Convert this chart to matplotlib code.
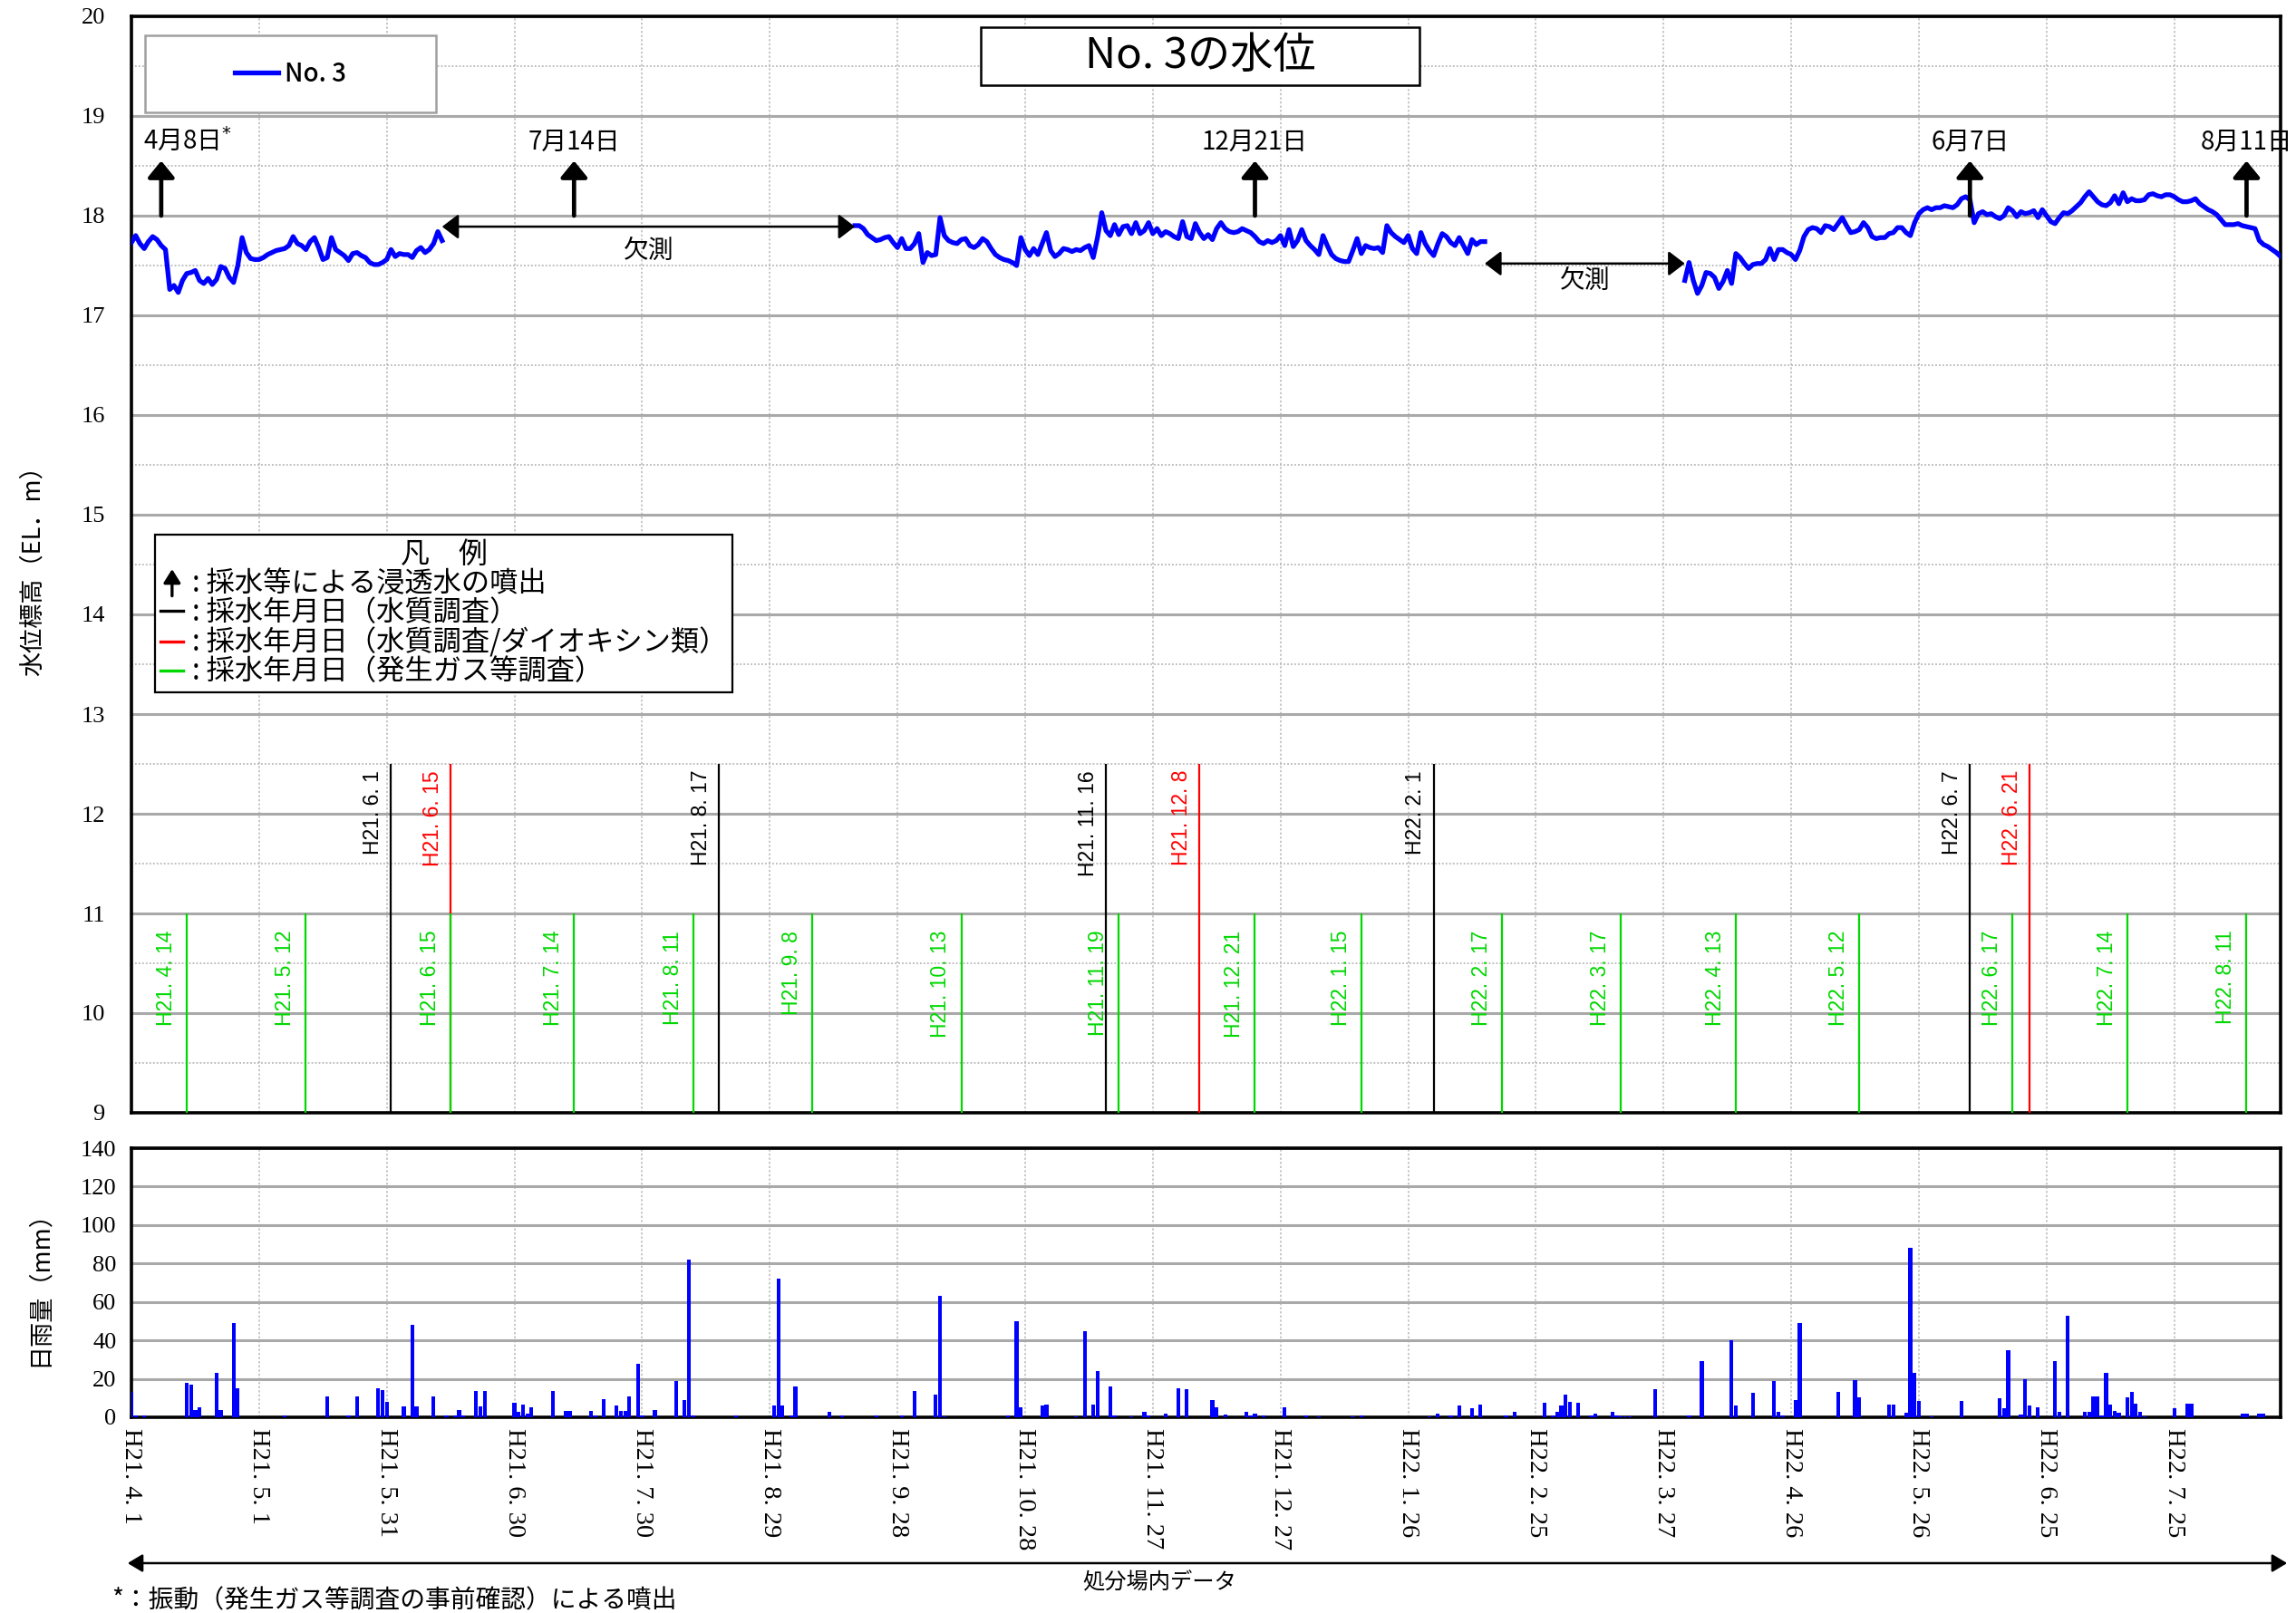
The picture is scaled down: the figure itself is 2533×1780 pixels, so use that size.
import numpy as np
import pandas as pd
import matplotlib
matplotlib.use("Agg")
import matplotlib.pyplot as plt
from matplotlib.lines import Line2D
from matplotlib.patches import Rectangle, FancyArrowPatch
from matplotlib.legend_handler import HandlerBase
from matplotlib.font_manager import FontProperties

JP = ["Noto Sans CJK JP", "DejaVu Sans"]
SERIF = ["Liberation Serif", "DejaVu Serif"]
SANS = ["Liberation Sans", "DejaVu Sans"]

ORIGIN = pd.Timestamp("2009-04-01")   # H21.4.1


def day(s):
    return (pd.Timestamp(s) - ORIGIN).days


# ---------------------------------------------------------------- data
# Daily water level at well No.3 (EL. m), one list per continuous record
level_start_1 = "2009-04-01"
level_1 = [17.73, 17.80, 17.72, 17.67, 17.74, 17.79, 17.76, 17.70, 17.66, 17.26,
           17.30, 17.23, 17.35, 17.42, 17.43, 17.45, 17.35, 17.32, 17.37, 17.31,
           17.36, 17.49, 17.47, 17.38, 17.33, 17.50, 17.78, 17.63, 17.57, 17.56,
           17.56, 17.58, 17.61, 17.63, 17.65, 17.66, 17.67, 17.70, 17.79, 17.72,
           17.70, 17.66, 17.74, 17.78, 17.68, 17.56, 17.58, 17.78, 17.66, 17.63,
           17.60, 17.55, 17.62, 17.63, 17.60, 17.58, 17.53, 17.51, 17.51, 17.53,
           17.56, 17.66, 17.59, 17.62, 17.61, 17.61, 17.58, 17.65, 17.68, 17.63,
           17.66, 17.72, 17.84, 17.75]

level_start_2 = "2009-09-18"
level_2 = [17.90, 17.90, 17.87, 17.81, 17.78, 17.75, 17.76, 17.78, 17.79, 17.73,
           17.68, 17.77, 17.67, 17.67, 17.72, 17.82, 17.53, 17.63, 17.60, 17.61,
           17.98, 17.80, 17.75, 17.73, 17.72, 17.76, 17.77, 17.70, 17.68, 17.71,
           17.77, 17.74, 17.67, 17.61, 17.58, 17.56, 17.55, 17.53, 17.50, 17.78,
           17.66, 17.60, 17.67, 17.61, 17.72, 17.83, 17.65, 17.59, 17.62, 17.67,
           17.66, 17.64, 17.66, 17.65, 17.68, 17.70, 17.58, 17.78, 18.03, 17.85,
           17.80, 17.91, 17.81, 17.89, 17.90, 17.82, 17.93, 17.82, 17.85, 17.93,
           17.82, 17.87, 17.80, 17.84, 17.82, 17.79, 17.77, 17.94, 17.79, 17.77,
           17.92, 17.83, 17.77, 17.81, 17.76, 17.87, 17.93, 17.87, 17.84, 17.83,
           17.84, 17.87, 17.85, 17.83, 17.79, 17.74, 17.72, 17.75, 17.73, 17.75,
           17.80, 17.70, 17.86, 17.69, 17.75, 17.86, 17.75, 17.70, 17.66, 17.61,
           17.80, 17.70, 17.61, 17.57, 17.55, 17.54, 17.54, 17.65, 17.77, 17.62,
           17.70, 17.68, 17.67, 17.68, 17.63, 17.90, 17.83, 17.79, 17.76, 17.73,
           17.80, 17.67, 17.62, 17.83, 17.72, 17.65, 17.60, 17.72, 17.82, 17.79,
           17.73, 17.70, 17.78, 17.70, 17.62, 17.76, 17.71, 17.74, 17.74]

level_start_3 = "2010-04-01"
level_3 = [17.35, 17.53, 17.35, 17.22, 17.30, 17.43, 17.42, 17.38, 17.27, 17.34,
           17.45, 17.32, 17.62, 17.58, 17.52, 17.47, 17.51, 17.52, 17.52, 17.56,
           17.67, 17.56, 17.66, 17.66, 17.63, 17.61, 17.56, 17.65, 17.79, 17.86,
           17.88, 17.87, 17.83, 17.90, 17.89, 17.86, 17.92, 17.98, 17.90, 17.83,
           17.84, 17.86, 17.93, 17.88, 17.79, 17.77, 17.78, 17.78, 17.82, 17.83,
           17.88, 17.88, 17.83, 17.80, 17.93, 18.02, 18.06, 18.08, 18.06, 18.08,
           18.08, 18.10, 18.09, 18.08, 18.11, 18.17, 18.19, 18.16, 17.93, 18.02,
           18.04, 18.01, 18.02, 17.99, 17.97, 18.00, 18.08, 18.05, 17.99, 18.04,
           18.02, 18.03, 18.05, 17.98, 18.06, 18.00, 17.94, 17.92, 17.98, 18.03,
           18.02, 18.05, 18.09, 18.13, 18.19, 18.24, 18.19, 18.14, 18.11, 18.10,
           18.13, 18.20, 18.12, 18.23, 18.14, 18.17, 18.15, 18.15, 18.16, 18.21,
           18.22, 18.20, 18.19, 18.21, 18.21, 18.19, 18.16, 18.14, 18.14, 18.15,
           18.17, 18.12, 18.09, 18.06, 18.04, 18.01, 17.96, 17.91, 17.91, 17.91,
           17.92, 17.90, 17.89, 17.88, 17.87, 17.75, 17.71, 17.69, 17.66, 17.63,
           17.59]

# Daily rainfall at the site (mm): day offset from H21.4.1 and amount
rain_day = [0, 1, 3, 13, 14, 15, 16, 20, 21, 24, 25, 36, 46, 51, 53, 58, 59, 60,
            64, 66, 67, 71, 74, 76, 77, 78, 81, 82, 83, 90, 91, 92, 93, 94, 99,
            102, 103, 108, 109, 111, 114, 115, 116, 117, 119, 120, 123, 128, 130,
            131, 132, 142, 151, 152, 153, 155, 156, 164, 167, 175, 181, 184, 189,
            190, 191, 206, 208, 209, 214, 215, 222, 224, 226, 227, 230, 231, 235,
            238, 239, 243, 246, 248, 254, 255, 257, 262, 263, 264, 266, 271, 276,
            279, 287, 289, 305, 307, 310, 312, 315, 317, 323, 325, 332, 334, 335,
            336, 337, 338, 340, 343, 344, 348, 349, 350, 351, 352, 358, 366, 369,
            376, 377, 381, 386, 387, 388, 391, 392, 401, 405, 406, 413, 414, 417,
            418, 419, 420, 423, 430, 439, 440, 441, 444, 445, 446, 448, 452, 453,
            455, 459, 460, 461, 462, 463, 464, 465, 466, 467, 469, 470, 471, 472,
            473, 480, 483, 484, 496, 497, 500, 501]
rain_mm = [13, 1, 1, 18, 17, 4, 5, 23, 4, 49, 15, 1, 11, 1, 11, 15, 14, 8,
           5.5, 48, 5.5, 11, 1, 1, 4, 1, 13.5, 5.5, 13.5, 7.5, 3, 6.5, 2, 5, 13.5,
           3.5, 3.5, 3.5, 1, 9.5, 6, 3.5, 3.5, 11, 28, 1, 4, 19, 9,
           82, 1, 1, 6, 72, 6, 1, 16, 3, 1, 1, 1, 13.5, 12,
           63, 0.5, 1, 50, 5, 6, 6.5, 0.5, 45, 6.5, 24, 16, 1, 0.5,
           3, 1, 2, 15, 14.5, 9, 5, 1.5, 3, 1, 2, 1, 5, 1,
           0.5, 0.5, 1, 0.5, 2, 1, 6, 4.5, 6.5, 1, 3, 7.5, 1, 3,
           6, 12, 8, 7.5, 1, 2, 3, 1, 0.5, 0.5, 0.5, 14.5, 1, 29,
           40, 6, 12.5, 19, 3, 1, 9, 49, 13, 19.5, 10.5, 6.5, 6.5, 2.5,
           88, 23, 8.5, 0.5, 8.5, 10, 4.5, 35, 1.3, 20, 6, 5, 29, 3,
           53, 3, 3, 11, 11, 1, 23, 6.5, 3.5, 2.4, 10.5, 13, 7.3, 3,
           0.5, 4.5, 7.3, 7.3, 2, 2, 2, 2]

# Date axis: one tick every 30 days
tick_days = list(range(0, 481, 30))
tick_labels = ["H21. 4. 1", "H21. 5. 1", "H21. 5. 31", "H21. 6. 30", "H21. 7. 30",
               "H21. 8. 29", "H21. 9. 28", "H21. 10. 28", "H21. 11. 27",
               "H21. 12. 27", "H22. 1. 26", "H22. 2. 25", "H22. 3. 27",
               "H22. 4. 26", "H22. 5. 26", "H22. 6. 25", "H22. 7. 25"]

# Sampling dates
quality_dates = ["2009-06-01", "2009-08-17", "2009-11-16", "2010-02-01", "2010-06-07"]
quality_labels = ["H21. 6. 1", "H21. 8. 17", "H21. 11. 16", "H22. 2. 1", "H22. 6. 7"]
dioxin_dates = ["2009-06-15", "2009-12-08", "2010-06-21"]
dioxin_labels = ["H21. 6. 15", "H21. 12. 8", "H22. 6. 21"]
gas_dates = ["2009-04-14", "2009-05-12", "2009-06-15", "2009-07-14", "2009-08-11",
             "2009-09-08", "2009-10-13", "2009-11-19", "2009-12-21", "2010-01-15",
             "2010-02-17", "2010-03-17", "2010-04-13", "2010-05-12", "2010-06-17",
             "2010-07-14", "2010-08-11"]
gas_labels = ["H21. 4. 14", "H21. 5. 12", "H21. 6. 15", "H21. 7. 14", "H21. 8. 11",
              "H21. 9. 8", "H21. 10. 13", "H21. 11. 19", "H21. 12. 21", "H22. 1. 15",
              "H22. 2. 17", "H22. 3. 17", "H22. 4. 13", "H22. 5. 12", "H22. 6. 17",
              "H22. 7. 14", "H22. 8. 11"]

# Spouting of leachate caused by sampling
spout_dates = ["2009-04-08", "2009-07-14", "2009-12-21", "2010-06-07", "2010-08-11"]
spout_labels = ["4月8日", "7月14日", "12月21日", "6月7日", "8月11日"]

# ---------------------------------------------------------------- styles
BLUE = "#0000ff"
GREEN = "#00d800"
RED = "#ff0000"
GRID_SOLID = "#a9a9a9"
GRID_DOT = "#b8b8b8"

X_MAX = 505
W_PX, H_PX = 2533, 1780

fig = plt.figure(figsize=(W_PX / 100, H_PX / 100), dpi=100)
fig.patch.set_facecolor("white")


def fig_rect(left, top, right, bottom):
    return [left / W_PX, 1 - bottom / H_PX, (right - left) / W_PX, (bottom - top) / H_PX]


ax = fig.add_axes(fig_rect(145, 18, 2516, 1228))
axr = fig.add_axes(fig_rect(145, 1267, 2516, 1564))

for a in (ax, axr):
    a.set_xlim(0, X_MAX)
    a.set_xticks(tick_days)
    for s in a.spines.values():
        s.set_linewidth(2.6)
        s.set_color("black")
    a.set_axisbelow(True)
    a.grid(which="major", axis="x", color=GRID_DOT, lw=1.1, ls=(0, (1.5, 1.5)))

# ---------------------------------------------------------------- water level
ax.set_ylim(9, 20)
ax.set_yticks(range(9, 21))
ax.set_yticks(np.arange(9.5, 20, 1.0), minor=True)
ax.grid(which="major", axis="y", color=GRID_SOLID, lw=2.2, ls="-")
ax.grid(which="minor", axis="y", color=GRID_DOT, lw=1.3, ls=(0, (1, 1.2)))
ax.tick_params(axis="x", which="both", length=0, labelbottom=False)
ax.tick_params(axis="y", which="both", length=0, pad=21)
for t in ax.get_yticklabels():
    t.set_fontfamily(SERIF)
    t.set_fontsize(19)

segments = [(level_start_1, level_1), (level_start_2, level_2), (level_start_3, level_3)]
seg_days = []
for i, (start, vals) in enumerate(segments):
    d = day(start) + np.arange(len(vals))
    seg_days.append(d)
    ax.plot(d, vals, color=BLUE, lw=3.8, solid_joinstyle="round",
            label="No. 3" if i == 0 else None, zorder=5)

# Sampling lines (red first so the green line of the same day stays on top)
for ds, labs, col, top in ((dioxin_dates, dioxin_labels, RED, 12.5),
                           (quality_dates, quality_labels, "black", 12.5)):
    for ds_, lab in zip(ds, labs):
        x = day(ds_)
        ax.vlines(x, 9, top, color=col, lw=1.6, zorder=3)
        ax.annotate(lab, xy=(x, top), xytext=(-6, -5), textcoords="offset points",
                    rotation=90, ha="right", va="top", color=col,
                    fontsize=16.5, family=SANS, zorder=4)
for ds_, lab in zip(gas_dates, gas_labels):
    x = day(ds_)
    ax.vlines(x, 9, 11, color=GREEN, lw=1.6, zorder=3)
    ax.annotate(lab, xy=(x, 11), xytext=(-8, -13.5), textcoords="offset points",
                rotation=90, ha="right", va="top", color=GREEN,
                fontsize=16.5, family=SANS, zorder=4)

# Spouting arrows
for i, (ds_, lab) in enumerate(zip(spout_dates, spout_labels)):
    x = day(ds_)
    ax.annotate("", xy=(x, 18.55), xytext=(x, 18.0),
                arrowprops=dict(arrowstyle="-|>,head_length=0.55,head_width=0.45",
                                mutation_scale=20, lw=3.4, color="black",
                                shrinkA=0, shrinkB=0), zorder=6)
    text = lab + ("$^{*}$" if i == 0 else "")
    dx = 21 if i == 0 else 0
    ax.annotate(text, xy=(x, 18.6), xytext=(dx, 0), textcoords="offset points",
                ha="center", va="bottom", fontsize=20, family=JP, zorder=6)

# Missing-record spans
gaps = [(seg_days[0][-1], seg_days[1][0], 17.89, 17.65),
        (seg_days[1][-1], seg_days[2][0], 17.52, 17.35)]
for x0, x1, y_arrow, y_text in gaps:
    ax.annotate("", xy=(x1, y_arrow), xytext=(x0, y_arrow),
                arrowprops=dict(arrowstyle="<|-|>,head_length=0.55,head_width=0.42",
                                mutation_scale=20, lw=1.8, color="black",
                                shrinkA=0, shrinkB=0), zorder=6)
    ax.text((x0 + x1) / 2, y_text, "欠測", ha="center", va="center",
            fontsize=20, family=JP, zorder=6)

# Title box
ax.add_patch(Rectangle((0.3952, 0.9372), 0.2041, 0.0529, transform=ax.transAxes,
                       facecolor="white", edgecolor="black", lw=1.8, zorder=7))
ax.text(0.4973, 0.9637, "No. 3の水位", transform=ax.transAxes, ha="center",
        va="center", fontsize=34, family=JP, zorder=8)

# Series legend inside a grey box
ax.add_patch(Rectangle((0.00633, 0.9124), 0.1354, 0.0702, transform=ax.transAxes,
                       facecolor="white", edgecolor="#a0a0a0", lw=1.8, zorder=7))
leg1 = ax.legend(loc="center", bbox_to_anchor=(0.00633 + 0.0677, 0.9124 + 0.0351),
                 frameon=False, handlelength=1.75, handletextpad=0.25,
                 prop=FontProperties(family=JP, size=20, weight="medium"))
leg1.set_zorder(8)
ax.add_artist(leg1)


# Key to the marks
class UpArrowHandler(HandlerBase):
    def create_artists(self, legend, orig_handle, xdescent, ydescent,
                       width, height, fontsize, trans):
        x = width / 2 - xdescent
        arrow = FancyArrowPatch((x, -ydescent - 0.2 * height), (x, height * 1.15),
                                arrowstyle="-|>,head_length=0.4,head_width=0.25",
                                mutation_scale=fontsize, lw=2.4, color="black",
                                shrinkA=0, shrinkB=0, transform=trans)
        return [arrow]


arrow_key = Line2D([], [], color="black")
key_handles = [arrow_key,
               Line2D([], [], color="black", lw=2.4),
               Line2D([], [], color=RED, lw=2.4),
               Line2D([], [], color=GREEN, lw=2.4)]
key_labels = [": 採水等による浸透水の噴出",
              ": 採水年月日（水質調査）",
              ": 採水年月日（水質調査/ダイオキシン類）",
              ": 採水年月日（発生ガス等調査）"]
leg2 = ax.legend(key_handles, key_labels, handler_map={arrow_key: UpArrowHandler()},
                 loc="upper left", bbox_to_anchor=(0.011, 0.5273), borderaxespad=0,
                 title="凡　例", title_fontproperties=FontProperties(family=JP, size=23),
                 prop=FontProperties(family=JP, size=22.5), handlelength=0.8,
                 handletextpad=0.3, labelspacing=0.0, borderpad=0.2,
                 fancybox=False, framealpha=1, edgecolor="black")
leg2.get_frame().set_linewidth(1.6)
leg2.set_zorder(8)

ax.set_ylabel("水位標高（EL．m）", family=JP, fontsize=19.5, va="center")
ax.yaxis.set_label_coords(-0.046, 0.5)

# ---------------------------------------------------------------- rainfall
axr.bar(rain_day, rain_mm, width=0.9, color=BLUE, zorder=3)
axr.set_ylim(0, 140)
axr.set_yticks(range(0, 141, 20))
axr.grid(which="major", axis="y", color=GRID_SOLID, lw=2.2, ls="-")
axr.set_xticklabels(tick_labels, rotation=270, family=SERIF, fontsize=20.5)
axr.tick_params(axis="x", length=0, pad=9)
axr.tick_params(axis="y", length=0, pad=12)
for t in axr.get_yticklabels():
    t.set_fontfamily(SERIF)
    t.set_fontsize(19)
axr.set_ylabel("日雨量（mm）", family=JP, fontsize=19.5, va="center")
axr.yaxis.set_label_coords(-0.043, 0.5)

# ---------------------------------------------------------------- footer
y_arrow = 1 - 1725 / H_PX
fig.add_artist(FancyArrowPatch((138 / W_PX, y_arrow), (2526 / W_PX, y_arrow),
                               transform=fig.transFigure,
                               arrowstyle="<|-|>,head_length=0.5,head_width=0.3",
                               mutation_scale=20, lw=1.8, color="black"))
fig.text(1279 / W_PX, 1 - 1746 / H_PX, "処分場内データ", ha="center", va="center",
         fontsize=17.5, family=JP)
fig.text(123 / W_PX, 1 - 1766 / H_PX, "*：振動（発生ガス等調査の事前確認）による噴出",
         ha="left", va="center", fontsize=20, family=JP)

fig.savefig("out.png", dpi=100, facecolor="white")
